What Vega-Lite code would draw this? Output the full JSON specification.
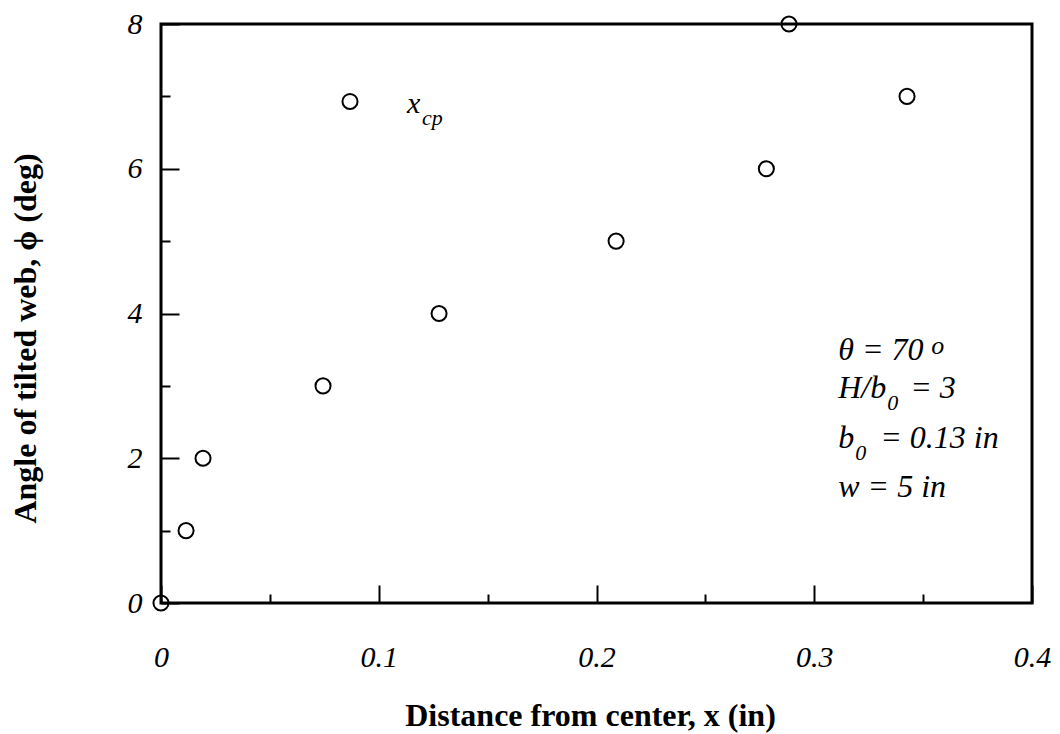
{
  "$schema": "https://vega.github.io/schema/vega-lite/v6.json",
  "width": 871,
  "height": 579,
  "autosize": {"type": "none"},
  "padding": {"left": 161, "top": 24, "right": 28, "bottom": 131},
  "background": "white",
  "config": {
    "view": {"stroke": "black", "strokeWidth": 3},
    "axis": {
      "domain": false,
      "grid": false,
      "tickColor": "black",
      "tickWidth": 2,
      "labelFont": "Liberation Serif",
      "labelFontStyle": "italic",
      "labelFontSize": 30,
      "labelColor": "black",
      "labelFlush": false,
      "labelOverlap": false,
      "labelBound": false,
      "titleFont": "Liberation Serif",
      "titleFontWeight": "bold",
      "titleFontSize": 32,
      "titleColor": "black"
    },
    "text": {"font": "Liberation Serif", "fontStyle": "italic", "fill": "black", "align": "left", "baseline": "alphabetic"}
  },
  "layer": [
    {
      "data": {
        "values": [
          {"x": 0.0, "phi": 0},
          {"x": 0.0115, "phi": 1},
          {"x": 0.0193, "phi": 2},
          {"x": 0.0744, "phi": 3},
          {"x": 0.0868, "phi": 6.93},
          {"x": 0.1277, "phi": 4},
          {"x": 0.209, "phi": 5},
          {"x": 0.278, "phi": 6},
          {"x": 0.2884, "phi": 8},
          {"x": 0.3426, "phi": 7}
        ]
      },
      "mark": {"type": "point", "shape": "circle", "filled": false, "stroke": "black", "strokeWidth": 2, "size": 227, "opacity": 1, "clip": false},
      "encoding": {
        "x": {
          "field": "x",
          "type": "quantitative",
          "scale": {"domain": [0, 0.4], "nice": false, "zero": false},
          "axis": {
            "title": "Distance from center, x (in)",
            "values": [0, 0.05, 0.1, 0.15, 0.2, 0.25, 0.3, 0.35, 0.4],
            "labelExpr": "round(datum.value * 20) % 2 == 0 ? '' + round(datum.value * 10) / 10 : ''",
            "tickSize": {"condition": {"test": "round(datum.value * 20) % 2 == 0", "value": -18}, "value": -9},
            "labelPadding": 57,
            "titleX": 429,
            "titleY": 122,
            "titleBaseline": "alphabetic"
          }
        },
        "y": {
          "field": "phi",
          "type": "quantitative",
          "scale": {"domain": [0, 8], "nice": false, "zero": false},
          "axis": {
            "title": "Angle of tilted web, ϕ (deg)",
            "values": [0, 1, 2, 3, 4, 5, 6, 7, 8],
            "labelExpr": "datum.value % 2 == 0 ? '' + round(datum.value) : ''",
            "tickSize": {"condition": {"test": "datum.value % 2 == 0", "value": -18}, "value": -9},
            "labelPadding": 37,
            "titleX": -136,
            "titleY": 314,
            "titleBaseline": "middle",
            "titleAngle": -90
          }
        }
      }
    },
    {
      "data": {"values": [{}]},
      "layer": [
        {
          "mark": {"type": "text", "fontSize": 30},
          "encoding": {"x": {"datum": 0.113}, "y": {"datum": 6.77}, "text": {"value": "x"}}
        },
        {
          "mark": {"type": "text", "fontSize": 22, "dx": 15, "dy": 12},
          "encoding": {"x": {"datum": 0.113}, "y": {"datum": 6.77}, "text": {"value": "cp"}}
        },
        {
          "mark": {"type": "text", "fontSize": 32},
          "encoding": {"x": {"datum": 0.311}, "y": {"datum": 3.357}, "text": {"value": "θ = 70"}}
        },
        {
          "mark": {"type": "text", "fontSize": 26, "dx": 93, "dy": -6},
          "encoding": {"x": {"datum": 0.311}, "y": {"datum": 3.357}, "text": {"value": "o"}}
        },
        {
          "mark": {"type": "text", "fontSize": 32},
          "encoding": {"x": {"datum": 0.311}, "y": {"datum": 2.832}, "text": {"value": "H/b"}}
        },
        {
          "mark": {"type": "text", "fontSize": 22, "dx": 49, "dy": 12},
          "encoding": {"x": {"datum": 0.311}, "y": {"datum": 2.832}, "text": {"value": "0"}}
        },
        {
          "mark": {"type": "text", "fontSize": 32, "dx": 72},
          "encoding": {"x": {"datum": 0.311}, "y": {"datum": 2.832}, "text": {"value": "= 3"}}
        },
        {
          "mark": {"type": "text", "fontSize": 32},
          "encoding": {"x": {"datum": 0.311}, "y": {"datum": 2.142}, "text": {"value": "b"}}
        },
        {
          "mark": {"type": "text", "fontSize": 22, "dx": 17, "dy": 12},
          "encoding": {"x": {"datum": 0.311}, "y": {"datum": 2.142}, "text": {"value": "0"}}
        },
        {
          "mark": {"type": "text", "fontSize": 32, "dx": 42},
          "encoding": {"x": {"datum": 0.311}, "y": {"datum": 2.142}, "text": {"value": "= 0.13 in"}}
        },
        {
          "mark": {"type": "text", "fontSize": 32},
          "encoding": {"x": {"datum": 0.311}, "y": {"datum": 1.465}, "text": {"value": "w = 5 in"}}
        }
      ]
    }
  ]
}
